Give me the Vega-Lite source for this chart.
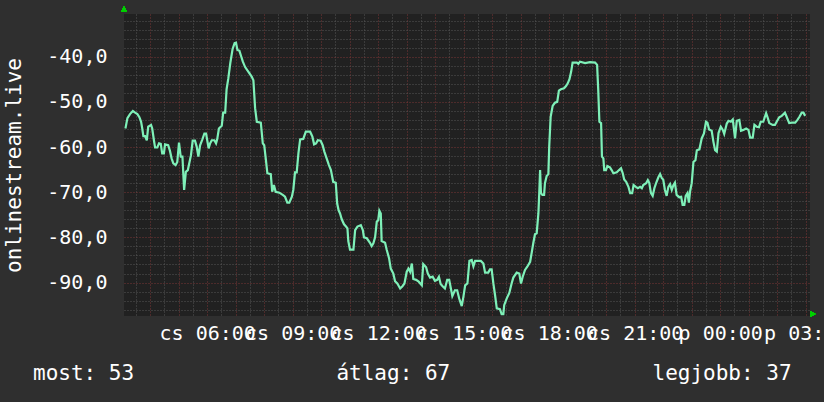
{
  "$schema": "https://vega.github.io/schema/vega-lite/v6.json",
  "width": 686,
  "height": 302,
  "autosize": "none",
  "padding": {"left": 124, "top": 14, "right": 14, "bottom": 86},
  "background": "#2f2f2f",
  "config": {
    "view": {"fill": "#212121", "stroke": null},
    "font": "DejaVu Sans Mono",
    "axis": {"labelFont": "DejaVu Sans Mono", "titleFont": "DejaVu Sans Mono"}
  },
  "title": {
    "text": "most: 53\u00a0\u00a0\u00a0\u00a0\u00a0\u00a0\u00a0\u00a0\u00a0\u00a0\u00a0\u00a0\u00a0\u00a0\u00a0\u00a0átlag: 67\u00a0\u00a0\u00a0\u00a0\u00a0\u00a0\u00a0\u00a0\u00a0\u00a0\u00a0\u00a0\u00a0\u00a0\u00a0\u00a0legjobb: 37",
    "orient": "bottom",
    "anchor": "start",
    "frame": "group",
    "dx": -91,
    "offset": 20,
    "font": "DejaVu Sans Mono",
    "fontSize": 21,
    "fontWeight": "normal",
    "color": "#ffffff"
  },
  "data": {
    "values": [
      {"t":3.13,"v":-55.9},{"t":3.20,"v":-53.6},{"t":3.29,"v":-52.7},{"t":3.39,"v":-52.0},{"t":3.47,"v":-52.4},{"t":3.55,"v":-52.7},{"t":3.62,"v":-53.4},{"t":3.68,"v":-54.4},{"t":3.72,"v":-55.9},{"t":3.76,"v":-57.6},
      {"t":3.82,"v":-57.6},{"t":3.88,"v":-58.5},{"t":3.93,"v":-55.5},{"t":4.03,"v":-55.1},{"t":4.07,"v":-55.9},{"t":4.13,"v":-58.5},{"t":4.17,"v":-60.1},{"t":4.25,"v":-60.1},{"t":4.31,"v":-59.2},{"t":4.37,"v":-59.3},
      {"t":4.42,"v":-61.4},{"t":4.48,"v":-61.4},{"t":4.52,"v":-59.4},{"t":4.63,"v":-59.6},{"t":4.69,"v":-60.8},{"t":4.75,"v":-62.5},{"t":4.81,"v":-63.6},{"t":4.89,"v":-64.0},{"t":4.95,"v":-63.3},{"t":5.01,"v":-59.0},
      {"t":5.07,"v":-62.1},{"t":5.13,"v":-62.1},{"t":5.19,"v":-69.5},{"t":5.25,"v":-65.5},{"t":5.32,"v":-65.1},{"t":5.37,"v":-63.6},{"t":5.43,"v":-61.8},{"t":5.49,"v":-58.6},{"t":5.57,"v":-58.6},{"t":5.63,"v":-59.9},
      {"t":5.69,"v":-62.1},{"t":5.75,"v":-59.6},{"t":5.83,"v":-58.3},{"t":5.90,"v":-57.0},{"t":5.96,"v":-57.0},{"t":6.00,"v":-58.5},{"t":6.05,"v":-60.3},{"t":6.10,"v":-59.2},{"t":6.16,"v":-58.5},{"t":6.25,"v":-58.5},
      {"t":6.31,"v":-59.2},{"t":6.35,"v":-58.3},{"t":6.41,"v":-55.9},{"t":6.51,"v":-55.3},{"t":6.56,"v":-52.4},{"t":6.63,"v":-52.4},{"t":6.68,"v":-47.2},{"t":6.74,"v":-44.8},{"t":6.81,"v":-41.4},{"t":6.89,"v":-38.3},
      {"t":6.96,"v":-37.0},{"t":7.01,"v":-36.9},{"t":7.06,"v":-38.5},{"t":7.13,"v":-38.7},{"t":7.19,"v":-39.9},{"t":7.25,"v":-41.1},{"t":7.33,"v":-42.3},{"t":7.44,"v":-43.3},{"t":7.56,"v":-44.4},{"t":7.62,"v":-45.2},
      {"t":7.68,"v":-51.4},{"t":7.74,"v":-54.4},{"t":7.88,"v":-54.6},{"t":7.95,"v":-59.2},{"t":8.00,"v":-59.6},{"t":8.06,"v":-62.9},{"t":8.11,"v":-65.8},{"t":8.23,"v":-66.0},{"t":8.28,"v":-69.9},{"t":8.34,"v":-68.4},
      {"t":8.40,"v":-69.9},{"t":8.53,"v":-70.1},{"t":8.65,"v":-70.6},{"t":8.73,"v":-71.0},{"t":8.81,"v":-72.3},{"t":8.88,"v":-72.3},{"t":8.97,"v":-71.0},{"t":9.02,"v":-69.5},{"t":9.08,"v":-65.6},{"t":9.14,"v":-65.6},
      {"t":9.20,"v":-61.4},{"t":9.26,"v":-58.3},{"t":9.37,"v":-58.2},{"t":9.46,"v":-56.6},{"t":9.61,"v":-56.6},{"t":9.69,"v":-57.7},{"t":9.75,"v":-59.4},{"t":9.82,"v":-59.2},{"t":9.88,"v":-58.5},{"t":9.98,"v":-58.6},
      {"t":10.05,"v":-59.6},{"t":10.11,"v":-61.0},{"t":10.19,"v":-62.5},{"t":10.27,"v":-64.0},{"t":10.34,"v":-65.1},{"t":10.42,"v":-67.7},{"t":10.51,"v":-67.9},{"t":10.56,"v":-72.5},{"t":10.61,"v":-74.0},{"t":10.66,"v":-74.7},
      {"t":10.72,"v":-76.0},{"t":10.80,"v":-77.1},{"t":10.87,"v":-77.6},{"t":10.92,"v":-78.0},{"t":10.95,"v":-80.8},{"t":11.01,"v":-82.7},{"t":11.13,"v":-82.7},{"t":11.19,"v":-78.4},{"t":11.27,"v":-77.6},{"t":11.39,"v":-77.3},
      {"t":11.46,"v":-78.4},{"t":11.50,"v":-80.0},{"t":11.60,"v":-80.2},{"t":11.71,"v":-81.2},{"t":11.77,"v":-81.9},{"t":11.83,"v":-81.3},{"t":11.89,"v":-80.0},{"t":11.95,"v":-76.5},{"t":12.00,"v":-76.2},{"t":12.04,"v":-74.1},
      {"t":12.09,"v":-74.7},{"t":12.12,"v":-80.8},{"t":12.24,"v":-81.2},{"t":12.30,"v":-82.8},{"t":12.38,"v":-84.6},{"t":12.44,"v":-86.9},{"t":12.53,"v":-88.0},{"t":12.59,"v":-89.7},{"t":12.67,"v":-90.2},{"t":12.77,"v":-91.3},
      {"t":12.85,"v":-90.8},{"t":12.92,"v":-90.2},{"t":13.00,"v":-87.6},{"t":13.06,"v":-86.9},{"t":13.12,"v":-87.6},{"t":13.18,"v":-85.8},{"t":13.23,"v":-89.2},{"t":13.33,"v":-89.4},{"t":13.42,"v":-89.8},{"t":13.53,"v":-90.6},
      {"t":13.58,"v":-85.9},{"t":13.68,"v":-86.6},{"t":13.74,"v":-88.0},{"t":13.82,"v":-88.9},{"t":13.91,"v":-88.7},{"t":13.99,"v":-89.6},{"t":14.07,"v":-89.4},{"t":14.13,"v":-88.7},{"t":14.19,"v":-90.3},{"t":14.26,"v":-90.8},
      {"t":14.34,"v":-91.3},{"t":14.42,"v":-89.4},{"t":14.49,"v":-89.4},{"t":14.55,"v":-91.3},{"t":14.60,"v":-93.0},{"t":14.69,"v":-91.7},{"t":14.77,"v":-91.7},{"t":14.84,"v":-93.5},{"t":14.93,"v":-95.2},{"t":14.99,"v":-93.1},
      {"t":15.05,"v":-90.6},{"t":15.13,"v":-90.2},{"t":15.20,"v":-85.2},{"t":15.28,"v":-85.0},{"t":15.34,"v":-86.4},{"t":15.40,"v":-85.2},{"t":15.60,"v":-85.2},{"t":15.69,"v":-85.8},{"t":15.75,"v":-87.8},{"t":15.86,"v":-87.8},
      {"t":15.92,"v":-87.1},{"t":15.98,"v":-87.1},{"t":16.04,"v":-90.2},{"t":16.10,"v":-92.8},{"t":16.16,"v":-95.7},{"t":16.27,"v":-95.9},{"t":16.33,"v":-97.0},{"t":16.39,"v":-97.0},{"t":16.42,"v":-95.0},{"t":16.51,"v":-93.5},
      {"t":16.60,"v":-92.3},{"t":16.68,"v":-90.2},{"t":16.74,"v":-88.9},{"t":16.86,"v":-87.8},{"t":16.95,"v":-88.0},{"t":17.01,"v":-90.2},{"t":17.07,"v":-88.7},{"t":17.15,"v":-87.2},{"t":17.23,"v":-86.5},{"t":17.33,"v":-85.4},
      {"t":17.39,"v":-83.2},{"t":17.44,"v":-81.3},{"t":17.50,"v":-79.3},{"t":17.56,"v":-79.1},{"t":17.62,"v":-74.7},{"t":17.65,"v":-70.2},{"t":17.68,"v":-65.1},{"t":17.71,"v":-70.2},{"t":17.76,"v":-70.6},{"t":17.82,"v":-70.6},
      {"t":17.85,"v":-68.0},{"t":17.91,"v":-66.4},{"t":17.97,"v":-66.0},{"t":18.00,"v":-59.9},{"t":18.05,"v":-53.3},{"t":18.12,"v":-50.9},{"t":18.20,"v":-50.2},{"t":18.28,"v":-50.0},{"t":18.34,"v":-47.5},{"t":18.41,"v":-47.2},
      {"t":18.52,"v":-47.0},{"t":18.59,"v":-46.5},{"t":18.65,"v":-45.9},{"t":18.71,"v":-45.0},{"t":18.77,"v":-43.3},{"t":18.82,"v":-41.3},{"t":18.97,"v":-41.3},{"t":19.02,"v":-41.6},{"t":19.08,"v":-41.1},{"t":19.26,"v":-41.4},
      {"t":19.43,"v":-41.2},{"t":19.61,"v":-41.3},{"t":19.68,"v":-41.8},{"t":19.72,"v":-47.4},{"t":19.76,"v":-54.4},{"t":19.82,"v":-54.7},{"t":19.85,"v":-62.1},{"t":19.90,"v":-62.5},{"t":19.93,"v":-65.1},{"t":19.99,"v":-65.1},
      {"t":20.04,"v":-64.2},{"t":20.13,"v":-64.5},{"t":20.19,"v":-65.1},{"t":20.25,"v":-65.8},{"t":20.37,"v":-65.6},{"t":20.45,"v":-65.1},{"t":20.52,"v":-64.7},{"t":20.58,"v":-65.8},{"t":20.63,"v":-67.2},{"t":20.70,"v":-67.7},
      {"t":20.78,"v":-68.8},{"t":20.84,"v":-70.2},{"t":20.91,"v":-70.2},{"t":20.96,"v":-68.4},{"t":21.04,"v":-68.8},{"t":21.11,"v":-69.1},{"t":21.19,"v":-68.8},{"t":21.25,"v":-69.1},{"t":21.30,"v":-68.4},{"t":21.40,"v":-68.0},
      {"t":21.46,"v":-67.3},{"t":21.51,"v":-67.9},{"t":21.57,"v":-70.2},{"t":21.63,"v":-70.8},{"t":21.69,"v":-69.1},{"t":21.75,"v":-68.0},{"t":21.83,"v":-66.7},{"t":21.89,"v":-66.0},{"t":21.95,"v":-66.9},{"t":22.00,"v":-67.2},
      {"t":22.06,"v":-69.5},{"t":22.12,"v":-70.8},{"t":22.18,"v":-68.8},{"t":22.24,"v":-68.2},{"t":22.30,"v":-69.5},{"t":22.36,"v":-68.4},{"t":22.41,"v":-67.9},{"t":22.47,"v":-70.6},{"t":22.56,"v":-71.1},{"t":22.63,"v":-71.0},
      {"t":22.68,"v":-72.8},{"t":22.74,"v":-72.8},{"t":22.79,"v":-70.8},{"t":22.85,"v":-70.2},{"t":22.90,"v":-72.3},{"t":22.94,"v":-69.9},{"t":23.00,"v":-68.0},{"t":23.06,"v":-63.3},{"t":23.13,"v":-62.9},{"t":23.18,"v":-60.7},
      {"t":23.27,"v":-60.5},{"t":23.35,"v":-58.1},{"t":23.43,"v":-57.0},{"t":23.50,"v":-54.4},{"t":23.55,"v":-54.6},{"t":23.61,"v":-56.1},{"t":23.70,"v":-56.4},{"t":23.76,"v":-58.8},{"t":23.82,"v":-60.7},{"t":23.88,"v":-61.0},
      {"t":23.94,"v":-56.9},{"t":24.02,"v":-55.5},{"t":24.09,"v":-56.2},{"t":24.14,"v":-57.1},{"t":24.23,"v":-54.8},{"t":24.29,"v":-54.2},{"t":24.37,"v":-54.4},{"t":24.44,"v":-53.9},{"t":24.52,"v":-58.1},{"t":24.58,"v":-54.2},
      {"t":24.67,"v":-54.0},{"t":24.73,"v":-56.4},{"t":24.81,"v":-56.2},{"t":24.91,"v":-55.9},{"t":24.99,"v":-56.2},{"t":25.05,"v":-57.9},{"t":25.14,"v":-57.9},{"t":25.20,"v":-55.1},{"t":25.28,"v":-55.5},{"t":25.36,"v":-55.6},
      {"t":25.42,"v":-54.4},{"t":25.51,"v":-54.4},{"t":25.61,"v":-52.5},{"t":25.67,"v":-53.6},{"t":25.72,"v":-54.7},{"t":25.84,"v":-55.1},{"t":25.92,"v":-55.1},{"t":25.98,"v":-54.4},{"t":26.07,"v":-53.4},{"t":26.16,"v":-53.1},
      {"t":26.27,"v":-52.4},{"t":26.33,"v":-53.3},{"t":26.42,"v":-54.7},{"t":26.51,"v":-54.6},{"t":26.63,"v":-54.6},{"t":26.71,"v":-54.0},{"t":26.78,"v":-53.3},{"t":26.86,"v":-52.4},{"t":26.92,"v":-52.4},{"t":26.98,"v":-53.1}
    ]
  },
  "layer": [
    {
      "mark": {"type": "point", "opacity": 0},
      "encoding": {
        "x": {"datum": 3.08, "type": "quantitative",
          "scale": {"domain": [3.08, 27.15], "nice": false, "zero": false},
          "axis": {"orient": "bottom", "values": [3.5,4.5,5.5,6.5,7.5,8.5,9.5,10.5,11.5,12.5,13.5,14.5,15.5,16.5,17.5,18.5,19.5,20.5,21.5,22.5,23.5,24.5,25.5,26.5],
            "grid": true, "gridColor": "#565656", "gridOpacity": 1, "gridDash": [1, 2], "gridWidth": 1,
            "labels": false, "ticks": false, "domain": false, "title": null}},
        "y": {"datum": -30.55, "type": "quantitative",
          "scale": {"domain": [-97.4, -30.55], "nice": false, "zero": false},
          "axis": {"orient": "left", "values": [-32,-34,-36,-38,-42,-44,-46,-48,-52,-54,-56,-58,-62,-64,-66,-68,-72,-74,-76,-78,-82,-84,-86,-88,-92,-94,-96],
            "grid": true, "gridColor": "#565656", "gridOpacity": 1, "gridDash": [1, 2], "gridWidth": 1,
            "labels": false, "ticks": false, "domain": false, "title": null}}
      }
    },
    {
      "mark": {"type": "point", "opacity": 0},
      "encoding": {
        "x": {"datum": 3.08, "type": "quantitative",
          "scale": {"domain": [3.08, 27.15], "nice": false, "zero": false},
          "axis": {"orient": "bottom", "values": [4,5,6,7,8,9,10,11,12,13,14,15,16,17,18,19,20,21,22,23,24,25,26,27],
            "grid": true, "gridColor": "#7a3636", "gridOpacity": 1, "gridDash": [1, 2], "gridWidth": 1,
            "labels": false, "ticks": false, "domain": false, "title": null}},
        "y": {"datum": -30.55, "type": "quantitative",
          "scale": {"domain": [-97.4, -30.55], "nice": false, "zero": false},
          "axis": {"orient": "left", "values": [-40,-50,-60,-70,-80,-90],
            "grid": true, "gridColor": "#7a3636", "gridOpacity": 1, "gridDash": [1, 2], "gridWidth": 1,
            "labels": false, "ticks": false, "domain": false, "title": null}}
      }
    },
    {
      "mark": {"type": "line", "color": "#7ef0b8", "strokeWidth": 2.2, "interpolate": "linear"},
      "encoding": {
        "x": {"field": "t", "type": "quantitative",
          "scale": {"domain": [3.08, 27.15], "nice": false, "zero": false},
          "axis": {"orient": "bottom", "values": [6,9,12,15,18,21,24,27],
            "labelExpr": "(datum.value < 24 ? 'cs ' : 'p ') + ((datum.value % 24) < 10 ? '0' : '') + (datum.value % 24) + ':00'",
            "grid": false, "ticks": false, "domain": false, "title": null,
            "labelFontSize": 20, "labelColor": "#ffffff", "labelPadding": 7,
            "labelOverlap": false, "labelBound": false, "labelFlush": false}},
        "y": {"field": "v", "type": "quantitative",
          "scale": {"domain": [-97.4, -30.55], "nice": false, "zero": false},
          "axis": {"orient": "left", "values": [-40,-50,-60,-70,-80,-90],
            "labelExpr": "'-' + replace(format(abs(datum.value), '.1f'), '.', ',')",
            "grid": false, "ticks": false, "domain": false,
            "title": "onlinestream.live", "titleFontSize": 21, "titleFontWeight": "normal", "titleColor": "#ffffff", "titlePadding": 22,
            "labelFontSize": 20, "labelColor": "#ffffff", "labelPadding": 17, "labelOverlap": false, "labelBound": false, "labelFlush": false}}
      }
    },
    {
      "mark": {"type": "point", "shape": "triangle-up", "filled": true, "color": "#00d000", "opacity": 1, "size": 30, "yOffset": -5, "clip": false},
      "encoding": {
        "x": {"datum": 3.08, "type": "quantitative", "scale": {"domain": [3.08, 27.15], "nice": false, "zero": false}, "axis": null},
        "y": {"datum": -30.55, "type": "quantitative", "scale": {"domain": [-97.4, -30.55], "nice": false, "zero": false}, "axis": null}
      }
    },
    {
      "mark": {"type": "point", "shape": "triangle-right", "filled": true, "color": "#00d000", "opacity": 1, "size": 30, "xOffset": 3, "yOffset": -2, "clip": false},
      "encoding": {
        "x": {"datum": 27.15, "type": "quantitative", "scale": {"domain": [3.08, 27.15], "nice": false, "zero": false}, "axis": null},
        "y": {"datum": -97.4, "type": "quantitative", "scale": {"domain": [-97.4, -30.55], "nice": false, "zero": false}, "axis": null}
      }
    }
  ],
  "resolve": {"axis": {"x": "independent", "y": "independent"}}
}
